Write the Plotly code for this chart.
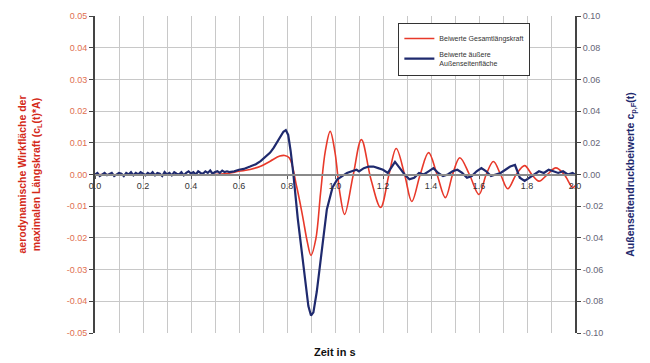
import plotly.graph_objects as go

# ---------------- data ----------------
red_t = [0.0, 0.5, 0.55, 0.6, 0.646, 0.69, 0.73, 0.77, 0.79, 0.81, 0.84, 0.865, 0.885, 0.90,
         0.92, 0.94, 0.96, 0.98, 1.0, 1.02, 1.04, 1.075, 1.11, 1.15, 1.19, 1.225, 1.255, 1.29,
         1.32, 1.355, 1.39, 1.425, 1.46, 1.49, 1.52, 1.56, 1.60, 1.63, 1.66, 1.69, 1.72, 1.755,
         1.79, 1.82, 1.85, 1.885, 1.92, 1.955, 1.99, 2.0]
red_v = [0.0, 0.0, 0.0003, 0.001, 0.0016, 0.0026, 0.0042, 0.0058, 0.006, 0.0052, -0.0037, -0.0131,
         -0.0214, -0.0255, -0.0204, -0.0057, 0.0075, 0.0136, 0.007, -0.0057, -0.0126, -0.0005, 0.011,
         -0.0016, -0.0104, 0.0, 0.0082, 0.0, -0.0085, 0.0, 0.0069, 0.0, -0.0073, 0.0, 0.0053, 0.0,
         -0.0063, 0.0, 0.0041, 0.0, -0.0045, 0.0, 0.0028, 0.0, -0.0021, 0.0, 0.0021, 0.0, -0.0041,
         -0.0035]

blue_t = [0.00, 0.01, 0.02, 0.03, 0.04, 0.05, 0.06, 0.07, 0.08, 0.09, 0.10, 0.11, 0.12, 0.13, 0.14,
          0.15, 0.16, 0.17, 0.18, 0.19, 0.20, 0.21, 0.22, 0.23, 0.24, 0.25, 0.26, 0.27, 0.28, 0.29,
          0.30, 0.31, 0.32, 0.33, 0.34, 0.35, 0.36, 0.37, 0.38, 0.39, 0.40, 0.41, 0.42, 0.43, 0.44,
          0.45, 0.46, 0.47, 0.48, 0.49, 0.50, 0.51, 0.52, 0.53, 0.54, 0.55, 0.56, 0.58,
          0.60, 0.62, 0.646, 0.67, 0.69, 0.71, 0.73, 0.745, 0.76, 0.775, 0.785, 0.795, 0.805, 0.815,
          0.826, 0.845, 0.868, 0.889, 0.90, 0.91, 0.924, 0.946, 0.966, 0.99, 1.01, 1.03, 1.05, 1.07,
          1.09, 1.10, 1.12, 1.14, 1.16, 1.18, 1.20, 1.22, 1.24, 1.25, 1.27, 1.29, 1.31, 1.33, 1.35,
          1.37, 1.39, 1.41, 1.43, 1.45, 1.47, 1.49, 1.51, 1.53, 1.55, 1.57, 1.59, 1.61, 1.63, 1.65,
          1.67, 1.69, 1.71, 1.73, 1.75, 1.77, 1.79, 1.81, 1.83, 1.85, 1.87, 1.89, 1.91, 1.93, 1.95,
          1.97, 1.99, 2.0]
blue_v = [0.000, 0.001, -0.001, 0.000, 0.001, -0.0005, 0.0005, 0.001, -0.001, 0.000, 0.001, 0.0005,
          -0.001, 0.001, 0.000, 0.0015, -0.0005, 0.001, 0.000, 0.0015, 0.0005, -0.0005, 0.001, 0.000,
          0.0015, -0.0005, 0.001, 0.0005, -0.001, 0.0015, 0.000, 0.001, -0.0005, 0.0015, 0.0005,
          0.000, 0.0015, -0.0005, 0.001, 0.002, 0.0005, 0.0015, 0.000, 0.002, 0.001, 0.0005, 0.002,
          0.001, 0.0025, 0.0005, 0.0015, 0.002, 0.001, 0.0025, 0.0015, 0.002, 0.0015, 0.002,
          0.003, 0.0035, 0.005, 0.0065, 0.0084, 0.011, 0.0138, 0.017, 0.021, 0.025, 0.027, 0.028,
          0.025, 0.015, 0.001, -0.028, -0.058, -0.083, -0.089, -0.087, -0.074, -0.045, -0.022,
          -0.008, -0.003, -0.001, 0.001, 0.002, 0.003, 0.002, 0.004, 0.005, 0.005, 0.004, 0.003,
          0.001, 0.006, 0.008, 0.004, 0.000, -0.003, -0.002, 0.001, 0.000, 0.002, 0.004, 0.001,
          -0.001, 0.000, 0.002, 0.003, 0.001, -0.002, -0.001, 0.002, 0.004, 0.002, -0.001, 0.000,
          0.001, 0.003, 0.005, 0.006, -0.002, -0.004, -0.002, 0.000, 0.002, 0.001, 0.003, 0.002,
          0.001, 0.002, 0.000, 0.001, 0.000]

x_ticks = [0.0, 0.2, 0.4, 0.6, 0.8, 1.0, 1.2, 1.4, 1.6, 1.8, 2.0]
left_ticks = [0.05, 0.04, 0.03, 0.02, 0.01, 0.0, -0.01, -0.02, -0.03, -0.04, -0.05]
right_ticks = [0.10, 0.08, 0.06, 0.04, 0.02, 0.0, -0.02, -0.04, -0.06, -0.08, -0.10]

RED = "#e8392a"
NAVY = "#1f2a6e"
FONT = "Liberation Sans, Arial, sans-serif"

fig = go.Figure()
fig.add_trace(go.Scatter(x=red_t, y=red_v, mode="lines", name="Beiwerte Gesamtlängskraft",
                         line=dict(color=RED, width=1.6, shape="spline", smoothing=1.0),
                         yaxis="y"))
fig.add_trace(go.Scatter(x=blue_t, y=blue_v, mode="lines",
                         name="Beiwerte äußere<br>Außenseitenfläche",
                         line=dict(color=NAVY, width=2.2), yaxis="y2"))

# the page body adds an 8 px margin, so the figure is sized/placed to compensate
fig.update_layout(
    width=642, height=355,
    margin=dict(l=87, r=75, t=8, b=30),
    paper_bgcolor="white", plot_bgcolor="white",
    font=dict(family=FONT, size=9, color="#333"),
    showlegend=True,
    legend=dict(x=0.632, y=0.978, xanchor="left", yanchor="top",
                bgcolor="white", bordercolor="#333", borderwidth=1,
                font=dict(size=7, color="#333"), tracegroupgap=2),
    xaxis=dict(range=[0, 2], tickvals=x_ticks, ticktext=[f"{v:.1f}" for v in x_ticks],
               showgrid=True, gridcolor="#c8c8c8", gridwidth=1,
               minor=dict(dtick=0.1, showgrid=True, gridcolor="#c8c8c8", gridwidth=1),
               anchor="free", position=0.5, showline=True, linecolor="#8a8a8a", linewidth=2,
               ticks="outside", ticklen=3, tickcolor="#555", automargin=False,
               tickfont=dict(size=9, color="#333"), zeroline=False, fixedrange=True),
    yaxis=dict(range=[-0.05, 0.05], tickvals=left_ticks,
               ticktext=[f"{v:.2f}" for v in left_ticks], automargin=False,
               showgrid=True, gridcolor="#c8c8c8", gridwidth=1, zeroline=False,
               showline=True, linecolor="#444", linewidth=2, ticks="outside", ticklen=4,
               tickcolor="#444", tickfont=dict(size=9, color="#e0704f"),
               title=dict(text="<b>aerodynamische Wirkfläche der<br>maximalen Längskraft (c<sub>L</sub>(t)*A)</b>",
                          font=dict(size=10.5, color="#d42a1a"), standoff=24)),
    yaxis2=dict(range=[-0.1, 0.1], tickvals=right_ticks,
                ticktext=[f"{v:.2f}" for v in right_ticks], automargin=False,
                overlaying="y", side="right", showgrid=False, zeroline=False,
                showline=True, linecolor="#444", linewidth=2, ticks="outside", ticklen=4,
                tickcolor="#444", tickfont=dict(size=9, color="#666677"),
                title=dict(text="<b>Außenseitendruckbeiwerte c<sub>p,F</sub>(t)</b>",
                           font=dict(size=10.5, color=NAVY), standoff=24)),
)

fig.add_annotation(text="<b>Zeit in s</b>", xref="paper", yref="paper", x=0.5, y=0,
                   yshift=-19, showarrow=False, yanchor="middle",
                   font=dict(size=11, color="#111", family=FONT))

fig.write_html("out.html")
